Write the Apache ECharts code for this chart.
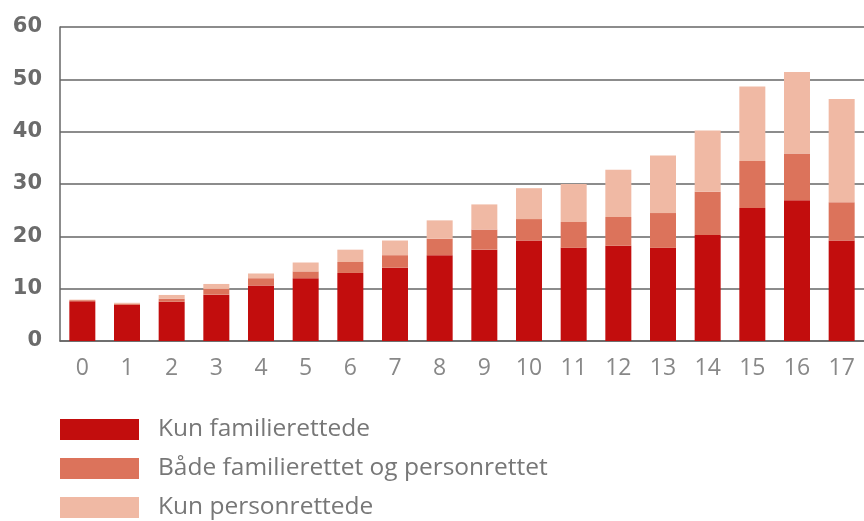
<!DOCTYPE html>
<html>
<head>
<meta charset="utf-8">
<script src="https://cdn.jsdelivr.net/npm/echarts@6/dist/echarts.min.js"></script>
<style>
html, body { margin: 0; padding: 0; background: #fff; }
#mainChart { width: 864px; height: 521px; }
</style>
</head>
<body>
<div id="mainChart"></div>
<script>
// alder 0-17
var categories = ['0','1','2','3','4','5','6','7','8','9','10','11','12','13','14','15','16','17'];
var seriesNames = ['Kun familierettede', 'Både familierettet og personrettet', 'Kun personrettede'];
var kunFamilie = [7.6, 6.9, 7.5, 8.85, 10.6, 12.0, 13.0, 14.0, 16.4, 17.45, 19.2, 17.8, 18.2, 17.8, 20.25, 25.4, 26.9, 19.2];
var begge = [0.2, 0.2, 0.6, 1.1, 1.4, 1.3, 2.1, 2.4, 3.15, 3.85, 4.1, 4.95, 5.5, 6.65, 8.25, 9.0, 8.95, 7.3];
var kunPerson = [0.1, 0.2, 0.7, 0.95, 0.9, 1.7, 2.35, 2.8, 3.5, 4.8, 5.9, 7.25, 9.0, 11.0, 11.7, 14.25, 15.55, 19.75];
var yTicks = [0, 10, 20, 30, 40, 50, 60];
var colors = ['#c20d0d', '#dc735b', '#f0b9a4'];

var myChart = echarts.init(document.getElementById('mainChart'));

function barSeries(name, data) {
	return {
		name: name,
		type: 'bar',
		stack: 'total',
		barWidth: 26,
		data: data
	};
}

var option = {
	backgroundColor: '#ffffff',
	animation: false,
	color: colors,
	grid: {
		left: 60,
		top: 27,
		width: 805,
		height: 314
	},
	legend: {
		orient: 'vertical',
		left: 60,
		top: 417,
		height: 150,
		padding: 0,
		itemWidth: 79,
		itemHeight: 21,
		itemGap: 14,
		icon: 'rect',
		textStyle: {
			fontFamily: 'Open Sans',
			fontSize: 24.5,
			lineHeight: 21,
			color: '#777777',
			padding: [0, 0, 0, 14]
		},
		data: seriesNames
	},
	xAxis: {
		type: 'category',
		data: categories,
		axisLine: { lineStyle: { color: '#666666', width: 1.5 } },
		axisTick: { show: false },
		axisLabel: {
			margin: 16,
			fontFamily: 'Open Sans',
			fontSize: 23,
			color: '#888888'
		}
	},
	yAxis: {
		type: 'value',
		min: yTicks[0],
		max: yTicks[yTicks.length - 1],
		interval: 10,
		axisLine: { show: true, lineStyle: { color: '#666666', width: 1.5 } },
		axisTick: { show: false },
		splitLine: { lineStyle: { color: '#666666', width: 1.5 } },
		axisLabel: {
			margin: 18,
			fontFamily: 'DejaVu Sans',
			fontWeight: 'bold',
			fontSize: 21,
			color: '#6b6b6b'
		}
	},
	series: [
		barSeries(seriesNames[0], kunFamilie),
		barSeries(seriesNames[1], begge),
		barSeries(seriesNames[2], kunPerson)
	]
};
myChart.setOption(option, true);
</script>
</body>
</html>
